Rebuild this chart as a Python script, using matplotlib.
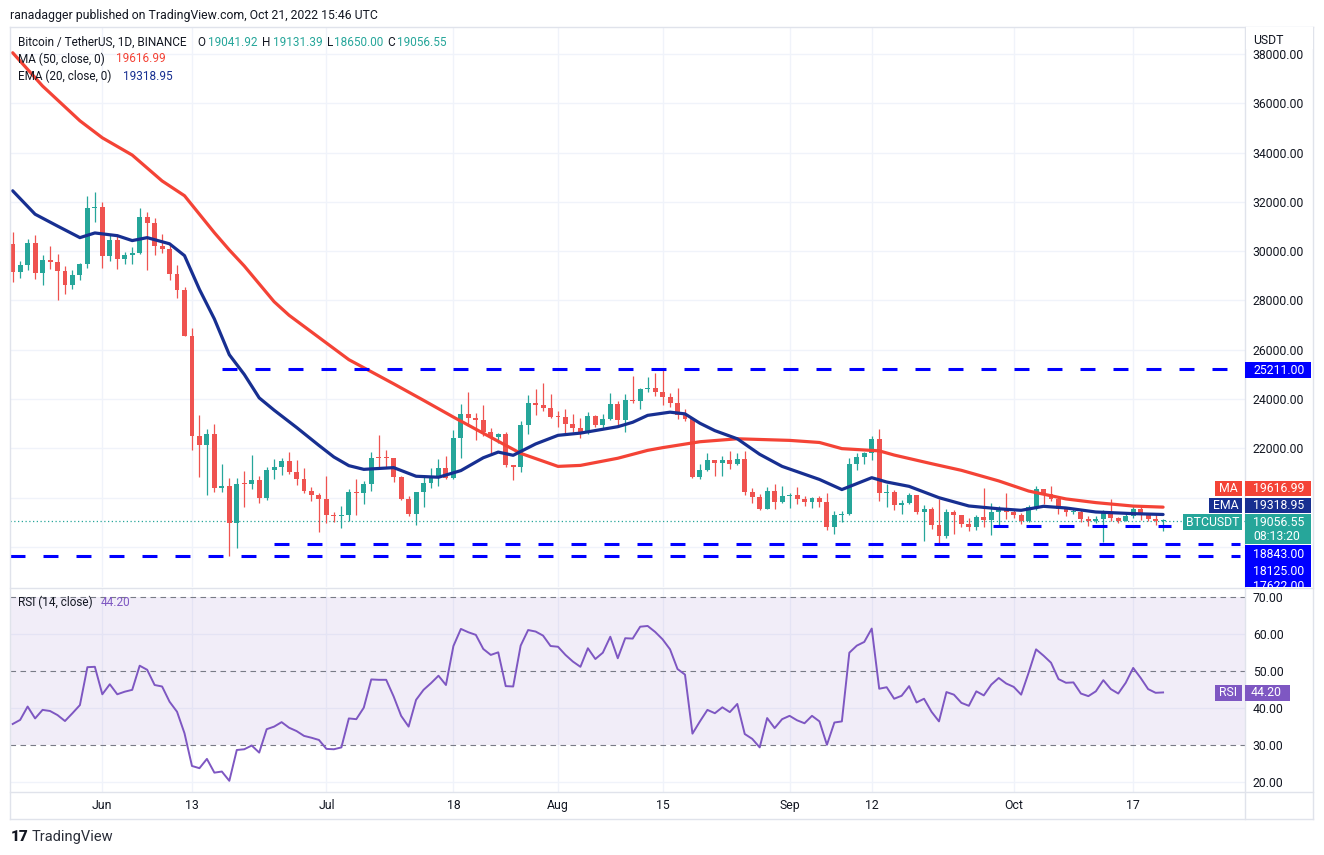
import numpy as np
import pandas as pd
import matplotlib
matplotlib.use("Agg")
import matplotlib.pyplot as plt
from matplotlib.patches import Rectangle
from matplotlib.lines import Line2D

plt.rcParams['font.family'] = ['Roboto', 'DejaVu Sans']

# ---------------- data ----------------
start_date = "2022-05-20"
opens = [30290, 29175, 29432, 30323, 29098, 29655, 29543, 29201, 28629, 29031,
         29468, 31734, 31801, 29805, 30452, 29700, 29864, 29919, 31373, 31125,
         30204, 30109, 29091, 28424, 26574, 22487, 22136, 22584, 20401, 20468,
         18970, 20574, 20573, 20723, 19987, 21110, 21237, 21491, 21038, 20742,
         20281, 20123, 19942, 19279, 19243, 19297, 20231, 20190, 20548, 21624,
         21594, 21591, 20853, 19963, 19329, 20235, 20588, 20830, 21196, 20785,
         22433, 23396, 23224, 23153, 22684, 22451, 22579, 21310, 21254, 22953,
         23847, 23773, 23643, 23293, 23269, 22988, 22818, 22622, 23312, 22954,
         23175, 23810, 23149, 23954, 23934, 24403, 24442, 24305, 24094, 23854,
         23342, 23191, 20834, 21140, 21516, 21400, 21529, 21368, 21559, 20241,
         20037, 19555, 20285, 19811, 20050, 20127, 19953, 19832, 19987, 19813,
         18791, 19290, 19320, 21361, 21651, 21826, 22396, 20173, 20227, 19701,
         19803, 20113, 19416, 19538, 18876, 18461, 19401, 19289, 18920, 18807,
         19227, 19080, 19413, 19591, 19423, 19311, 19057, 19630, 20337, 20159,
         19960, 19530, 19417, 19439, 19131, 19060, 19155, 19375, 19176, 19068,
         19268, 19550, 19335, 19139, 19041.92]
highs = [30777, 29607, 30487, 30670, 29830, 30223, 29880, 29397, 29250, 29530,
         32222, 32399, 31982, 30690, 30689, 29950, 30169, 31765, 31589, 31327,
         30700, 30333, 29440, 28544, 26895, 23363, 22800, 22995, 21365, 20792,
         20815, 21090, 21723, 20868, 21233, 21558, 21614, 21868, 21539, 21200,
         20432, 20179, 20865, 19438, 19650, 20354, 20750, 20675, 21838, 22527,
         21950, 21600, 20870, 20050, 20250, 20880, 21200, 21560, 21684, 22729,
         23800, 24280, 23430, 23756, 22810, 22640, 22660, 21320, 23100, 24150,
         24390, 24668, 24200, 23500, 23608, 23400, 23220, 23460, 23350, 23400,
         24245, 23920, 24226, 24918, 24456, 24888, 25047, 25211, 24247, 24446,
         23600, 23208, 21382, 21800, 21522, 21680, 21900, 21820, 21886, 20400,
         20141, 20433, 20575, 20490, 20200, 20450, 20056, 20029, 20060, 20180,
         19464, 19456, 21600, 21800, 21860, 22488, 22799, 20541, 20330, 19890,
         20189, 20113, 19689, 19634, 19956, 19550, 19500, 19316, 19180, 19315,
         20385, 19790, 19645, 20185, 19484, 19395, 19719, 20475, 20365, 20456,
         20060, 19628, 19559, 19526, 19268, 19238, 19513, 19952, 19228, 19425,
         19676, 19706, 19358, 19345, 19131.39]
lows = [28730, 28910, 29255, 28866, 28630, 29294, 28019, 28282, 28450, 28840,
        29299, 31200, 29301, 29594, 29282, 29485, 29500, 29890, 29218, 29844,
        29944, 28850, 28099, 26560, 21925, 20846, 20111, 20232, 20246, 17622,
        17960, 19637, 20348, 19770, 19890, 20741, 20906, 20950, 20501, 20188,
        19854, 18626, 18975, 19000, 18781, 19038, 19304, 19763, 20257, 21189,
        21200, 20650, 19900, 19240, 18910, 19620, 20383, 20483, 20755, 20770,
        21600, 22900, 22341, 22500, 21790, 22210, 21250, 20706, 21030, 22596,
        23340, 23500, 23230, 22850, 22620, 22650, 22430, 22580, 22880, 22840,
        23150, 22860, 22664, 23850, 23580, 24296, 24140, 23773, 23671, 23180,
        23100, 20783, 20761, 21069, 20890, 20890, 21152, 21310, 20107, 19800,
        19521, 19550, 19540, 19797, 19565, 19755, 19652, 19600, 19633, 18681,
        18510, 19010, 19291, 21111, 21350, 21538, 19860, 19617, 19497, 19320,
        19748, 19338, 18232, 18711, 18125, 18356, 18531, 18805, 18629, 18680,
        18816, 18471, 18843, 19155, 19160, 18920, 19001, 19490, 19730, 19853,
        19320, 19255, 19320, 19020, 18860, 18965, 18190, 19070, 18975, 19063,
        19160, 19100, 19070, 18900, 18650.00]
closes = [29175, 29432, 30323, 29098, 29655, 29543, 29201, 28629, 29031, 29468,
          31734, 31801, 29805, 30452, 29700, 29864, 29919, 31373, 31125, 30204,
          30109, 29091, 28424, 26574, 22487, 22136, 22584, 20401, 20468, 18970,
          20574, 20573, 20723, 19987, 21110, 21237, 21491, 21038, 20742, 20281,
          20123, 19942, 19279, 19243, 19297, 20231, 20190, 20548, 21624, 21594,
          21591, 20853, 19963, 19329, 20235, 20588, 20830, 21196, 20785, 22433,
          23396, 23224, 23153, 22684, 22451, 22579, 21310, 21254, 22953, 23847,
          23773, 23643, 23293, 23269, 22988, 22818, 22622, 23312, 22954, 23175,
          23810, 23149, 23954, 23934, 24403, 24442, 24305, 24094, 23854, 23342,
          23191, 20834, 21140, 21516, 21400, 21529, 21368, 21559, 20241, 20037,
          19555, 20285, 19811, 20050, 20127, 19953, 19832, 19987, 19813, 18791,
          19290, 19320, 21361, 21651, 21826, 22396, 20173, 20227, 19701, 19803,
          20113, 19416, 19538, 18876, 18461, 19401, 19289, 18920, 18807, 19227,
          19080, 19413, 19591, 19423, 19311, 19057, 19630, 20337, 20159, 19960,
          19530, 19417, 19439, 19131, 19060, 19155, 19375, 19176, 19068, 19268,
          19550, 19335, 19139, 19041.92, 19056.55]

ma_days = [0, 4, 9, 12, 16, 20, 23, 27, 29, 31, 35, 37, 41, 45, 51, 55, 59, 64, 68,
           73, 76, 81, 85, 87, 92, 97, 104, 108, 111, 116, 118, 123, 127, 132, 136,
           141, 145, 150, 154]
ma_vals = [38050, 36700, 35290, 34600, 33900, 32850, 32250, 30750, 30050, 29400,
           27950, 27400, 26500, 25600, 24620, 23950, 23270, 22450, 21800, 21270,
           21310, 21600, 21920, 22030, 22270, 22390, 22325, 22240, 21990, 21900,
           21730, 21380, 21110, 20680, 20270, 19950, 19800, 19660, 19616.99]
ema_days = [0, 3, 6, 9, 11, 14, 16, 18, 21, 23, 25, 27, 29, 31, 33, 35, 38, 41, 43,
            45, 47, 51, 54, 57, 60, 63, 65, 67, 70, 73, 76, 81, 83, 85, 88, 90, 92,
            94, 97, 100, 103, 108, 111, 115, 117, 120, 124, 128, 132, 135, 138, 141,
            145, 150, 154]
ema_vals = [32450, 31500, 31020, 30550, 30740, 30630, 30430, 30550, 30300, 29820,
            28450, 27250, 25800, 25000, 24050, 23550, 22850, 22120, 21650, 21300,
            21150, 21220, 20870, 20830, 21100, 21620, 21850, 21720, 22180, 22530,
            22620, 22880, 23060, 23340, 23470, 23400, 23020, 22720, 22390, 21760,
            21270, 20740, 20330, 20811, 20636, 20460, 20000, 19664, 19550, 19488,
            19650, 19583, 19420, 19353, 19318.95]
rsi_vals = [35.7, 36.8, 40.4, 37.2, 39.5, 39.2, 38.1, 36.5, 38.6, 40.8,
            51.0, 51.1, 43.7, 46.4, 43.7, 44.4, 44.9, 51.4, 50.3, 46.2,
            45.8, 41.7, 39.0, 33.2, 24.4, 23.8, 26.3, 22.6, 22.9, 20.4,
            28.7, 28.9, 29.9, 28.0, 34.3, 35.0, 36.2, 34.7, 33.8, 32.5,
            32.0, 31.4, 29.0, 28.9, 29.4, 37.2, 37.0, 40.1, 47.7, 47.6,
            47.6, 43.1, 37.9, 35.0, 42.2, 44.9, 46.7, 48.7, 46.2, 56.7,
            61.3, 60.4, 59.7, 55.9, 54.3, 55.0, 45.9, 45.8, 56.8, 61.0,
            60.6, 59.5, 56.7, 56.5, 54.3, 52.5, 51.1, 56.1, 53.2, 54.9,
            59.2, 53.4, 58.8, 58.7, 61.9, 62.1, 60.5, 58.5, 55.8, 50.5,
            49.0, 33.1, 36.4, 39.5, 38.6, 40.2, 38.9, 41.1, 33.0, 31.7,
            29.4, 37.3, 34.6, 37.0, 37.9, 36.7, 35.9, 37.9, 36.4, 30.1,
            36.1, 36.4, 54.9, 56.8, 57.8, 61.4, 45.2, 45.6, 42.5, 43.3,
            45.9, 41.5, 42.5, 39.0, 36.4, 44.3, 43.6, 41.4, 40.6, 44.5,
            43.4, 46.3, 48.1, 46.6, 45.7, 43.6, 49.5, 55.8, 54.1, 52.2,
            47.8, 46.8, 46.9, 43.9, 43.2, 44.5, 47.5, 45.1, 43.9, 46.8,
            50.8, 48.1, 45.1, 44.1, 44.2]

levels = [25211.00, 18843.00, 18125.00, 17622.00]
level_from = [28.0, 131.2, 35.0, -0.4]
level_to = [164.3, 155.0, 164.3, 164.3]

price_ticks = [18000, 20000, 22000, 24000, 26000, 28000, 30000, 32000, 34000, 36000, 38000]
rsi_ticks = [20, 30, 40, 50, 60, 70]
time_tick_dates = ["2022-06-01", "2022-06-13", "2022-07-01", "2022-07-18", "2022-08-01",
                   "2022-08-15", "2022-09-01", "2022-09-12", "2022-10-01", "2022-10-17"]
time_tick_labels = ["Jun", "13", "Jul", "18", "Aug", "15", "Sep", "12", "Oct", "17"]

# ---------------- layout ----------------
W, H = 1324, 855
fig = plt.figure(figsize=(W / 100, H / 100), dpi=100)
fig.patch.set_facecolor("white")

def fx(x):
    return x / W

def fy(y):
    return 1 - y / H

L, R = 10, 1244.5
ax = fig.add_axes([fx(L), fy(587), fx(R) - fx(L), fy(27) - fy(587)])
axr = fig.add_axes([fx(L), fy(792), fx(R) - fx(L), fy(588) - fy(792)])

TXT = "#131722"
GRID = "#F0F3FA"
BORDER = "#E0E3EB"
UP, DOWN = "#26A69A", "#EF5350"
MA_C, EMA_C, RSI_C = "#F44336", "#172F91", "#7E57C2"
LVL_C = "#0000FF"

o = np.array(opens, float); h = np.array(highs, float)
l = np.array(lows, float); c = np.array(closes, float)
n = len(c)
days = np.arange(n)
start = pd.Timestamp(start_date)
tick_pos = [(pd.Timestamp(d) - start).days for d in time_tick_dates]

xlim = (-0.36, 164.9)
for a in (ax, axr):
    a.set_xlim(*xlim)
    for s in a.spines.values():
        s.set_visible(False)
    a.set_xticks(tick_pos)
    a.grid(True, axis="x", color=GRID, lw=1.0)
    a.set_axisbelow(True)
    a.yaxis.tick_right()
    a.tick_params(axis="both", length=0, labelsize=8.8, labelcolor=TXT)

ax.set_ylim(16377, 39095)
ax.set_yticks(price_ticks)
ax.set_yticklabels(["" if v < 22000 else f"{v:.2f}" for v in price_ticks])
ax.tick_params(axis="y", pad=6)
ax.grid(True, axis="y", color=GRID, lw=1.0)
ax.set_xticklabels([])

# candles
cols = np.where(c >= o, UP, DOWN)
ax.vlines(days, l, h, colors=cols, lw=0.9, zorder=2)
body = np.maximum(np.abs(c - o), 40)
ax.bar(days, body, bottom=np.minimum(o, c), width=0.66, color=cols, lw=0, zorder=3)

# moving averages
ax.plot(ma_days, ma_vals, color=MA_C, lw=2.3, zorder=4, solid_capstyle="round")
ax.plot(ema_days, ema_vals, color=EMA_C, lw=2.3, zorder=4, solid_capstyle="round")

# levels
for lv, a0, a1 in zip(levels, level_from, level_to):
    ax.hlines(lv, a0, a1, colors=LVL_C, lw=2.2, linestyles=(0, (4.9, 5.9)), zorder=5)
ax.axhline(c[-1], color=UP, lw=0.9, ls=(0, (1, 2)), zorder=1)

# RSI pane
axr.set_ylim(17.39, 72.32)
axr.axhspan(30, 70, color=RSI_C, alpha=0.1, lw=0)
axr.set_yticks(rsi_ticks)
axr.set_yticklabels([f"{v:.2f}" for v in rsi_ticks])
axr.tick_params(axis="y", pad=6)
axr.tick_params(axis="x", pad=5)
axr.set_xticklabels(time_tick_labels)
for v in (20, 40, 60):
    axr.axhline(v, color=GRID, lw=1.0, zorder=0)
for v in (30, 50, 70):
    axr.axhline(v, color="#787B86", lw=0.8, ls=(0, (5, 4)), zorder=1)
axr.plot(days, rsi_vals, color=RSI_C, lw=1.4, zorder=3)

# borders
def fline(x0, y0, x1, y1, color=BORDER, lw=1.0):
    fig.add_artist(Line2D([fx(x0), fx(x1)], [fy(y0), fy(y1)], color=color, lw=lw,
                          transform=fig.transFigure, zorder=6))

fline(10, 27, 1313, 27)
fline(10, 819, 1313, 819)
fline(10, 27, 10, 819)
fline(1313, 27, 1313, 819)
fline(1244.5, 27, 1244.5, 819)
fline(10, 587.5, 1313, 587.5)
fline(10, 792, 1313, 792)

def box(x0, y0, x1, y1, color):
    r = Rectangle((fx(x0), fy(y1)), fx(x1) - fx(x0), fy(y0) - fy(y1),
                  transform=fig.transFigure, facecolor=color, edgecolor="none", zorder=7)
    fig.add_artist(r)
    return r

def ftext(x, y, s, color=TXT, size=8.8, ha="left", weight="normal", zorder=8, **kw):
    return fig.text(fx(x), fy(y), s, color=color, fontsize=size, ha=ha, va="center",
                    weight=weight, zorder=zorder, **kw)

# cover the clipped top label and write the currency
box(1245.5, 27.5, 1312.5, 49, "white")
ftext(1253, 40, "USDT")

# right-axis value boxes
box(1245, 362, 1311, 378, LVL_C)
ftext(1253, 370, f"{levels[0]:.2f}", color="white")
box(1215, 481, 1242, 496, MA_C)
ftext(1228.5, 488.5, "MA", color="white", ha="center")
box(1245, 481, 1311, 496, MA_C)
ftext(1253, 488.5, f"{ma_vals[-1]:.2f}", color="white")
box(1209, 497.5, 1242, 513, EMA_C)
ftext(1225.5, 505.5, "EMA", color="white", ha="center")
box(1245, 497.5, 1311, 513, EMA_C)
ftext(1253, 505.5, f"{ema_vals[-1]:.2f}", color="white")
box(1183, 514, 1242, 530, UP)
ftext(1212.5, 522, "BTCUSDT", color="white", ha="center")
box(1245, 514, 1311, 544, UP)
ftext(1253, 522, f"{c[-1]:.2f}", color="white")
ftext(1253, 536, "08:13:20", color="white")
blue = box(1245, 545, 1311, 587, LVL_C)
ftext(1253, 554, f"{levels[1]:.2f}", color="white")
ftext(1253, 571, f"{levels[2]:.2f}", color="white")
t = ftext(1253, 587, f"{levels[3]:.2f}", color="white")
t.set_clip_path(blue)

box(1215, 685, 1242, 701, RSI_C)
ftext(1228.5, 693, "RSI", color="white", ha="center")
box(1245, 685, 1290, 701, RSI_C)
ftext(1251, 693, f"{rsi_vals[-1]:.2f}", color="white")

# header / legends
ftext(10, 15, "ranadagger published on TradingView.com, Oct 21, 2022 15:46 UTC", size=8.8)
ftext(18, 42, "Bitcoin / TetherUS, 1D, BINANCE", size=8.5)
for lab, xl, val, xv in (("O", 197.5, o[-1], 207.5), ("H", 262, h[-1], 272.5),
                         ("L", 327, l[-1], 334), ("C", 387.5, c[-1], 396.5)):
    ftext(xl, 42, lab, size=8.5)
    ftext(xv, 42, f"{val:.2f}", color=UP, size=8.5)
ftext(18, 59, "MA (50, close, 0)", size=8.5)
ftext(116, 59, f"{ma_vals[-1]:.2f}", color=MA_C, size=8.5)
ftext(18, 76, "EMA (20, close, 0)", size=8.5)
ftext(123, 76, f"{ema_vals[-1]:.2f}", color=EMA_C, size=8.5)
ftext(18, 602, "RSI (14, close)", size=8.5)
ftext(101, 602, f"{rsi_vals[-1]:.2f}", color=RSI_C, size=8.5)

# footer logo
ftext(11, 837, "17", size=11, weight="heavy")
ftext(32, 837, "TradingView", size=10.5, color="#2A2E39")

fig.savefig("out.png", dpi=100)
